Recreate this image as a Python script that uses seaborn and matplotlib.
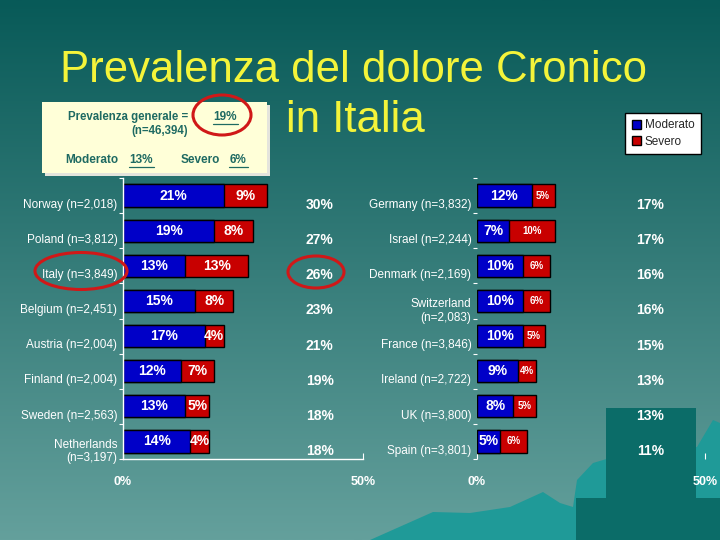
import matplotlib
matplotlib.use("Agg")
import matplotlib.pyplot as plt
import numpy as np
import pandas as pd
import seaborn as sns
from matplotlib.patches import Rectangle, Ellipse, Polygon, Patch

# data
left_countries = ["Norway (n=2,018)", "Poland (n=3,812)", "Italy (n=3,849)", "Belgium (n=2,451)",
                  "Austria (n=2,004)", "Finland (n=2,004)", "Sweden (n=2,563)", "Netherlands\n(n=3,197)"]
left_moderato = [21, 19, 13, 15, 17, 12, 13, 14]
left_severo = [9, 8, 13, 8, 4, 7, 5, 4]
left_totals = [30, 27, 26, 23, 21, 19, 18, 18]

right_countries = ["Germany (n=3,832)", "Israel (n=2,244)", "Denmark (n=2,169)", "Switzerland\n(n=2,083)",
                   "France (n=3,846)", "Ireland (n=2,722)", "UK (n=3,800)", "Spain (n=3,801)"]
right_moderato = [12, 7, 10, 10, 10, 9, 8, 5]
right_severo = [5, 10, 6, 6, 5, 4, 5, 6]
right_totals = [17, 17, 16, 16, 15, 13, 13, 11]

x_ticks = [0, 50]
x_tick_labels = ["0%", "50%"]
legend_labels = ["Moderato", "Severo"]

BLUE = "#0000c8"
RED = "#c80000"
WHITE = "white"

sns.set_theme(style="white")
plt.rcParams['font.family'] = ['Liberation Sans', 'DejaVu Sans']

fig = plt.figure(figsize=(7.2, 5.4), dpi=100)

# background of the slide, in pixel coordinates
bg = fig.add_axes([0, 0, 1, 1])
top = np.array([8, 90, 88]) / 255
bottom = np.array([100, 160, 156]) / 255
t = np.linspace(0, 1, 256)[:, None]
grad = (top * (1 - t) + bottom * t)[:, None, :]
bg.imshow(grad, extent=[0, 720, 540, 0], aspect="auto", zorder=0)
bg.add_patch(Polygon([(370, 540), (433, 512), (470, 513), (510, 507), (543, 492), (560, 503),
                      (573, 507), (577, 480), (593, 463), (610, 458), (697, 447), (713, 420),
                      (720, 423), (720, 540)], closed=True, color="#1f9a98", lw=0, zorder=1))
bg.add_patch(Rectangle((606, 408), 90, 100, color="#0b6c68", lw=0, zorder=2))
bg.add_patch(Rectangle((576, 498), 144, 42, color="#0b6c68", lw=0, zorder=2))

# info box
bg.add_patch(Rectangle((45, 105), 225, 71, color="#e4e4dc", lw=0, zorder=3))
bg.add_patch(Rectangle((42, 102), 225, 71, color="#ffffd8", lw=0, zorder=4))
box_c = "#1e6a62"
bg.text(128, 117, "Prevalenza generale =", color=box_c, fontsize=8.3, fontweight="bold", ha="center", va="center", zorder=5)
bg.text(225, 117, "19%", color=box_c, fontsize=8.5, fontweight="bold", ha="center", va="center", zorder=5)
bg.plot([213, 238], [124, 124], color=box_c, lw=0.9, zorder=5)
bg.text(160, 131, "(n=46,394)", color=box_c, fontsize=8.3, fontweight="bold", ha="center", va="center", zorder=5)
bg.text(92, 160, "Moderato", color=box_c, fontsize=8.5, fontweight="bold", ha="center", va="center", zorder=5)
bg.text(141, 160, "13%", color=box_c, fontsize=8.5, fontweight="bold", ha="center", va="center", zorder=5)
bg.plot([129, 154], [167, 167], color=box_c, lw=0.9, zorder=5)
bg.text(200, 160, "Severo", color=box_c, fontsize=8.5, fontweight="bold", ha="center", va="center", zorder=5)
bg.text(238, 160, "6%", color=box_c, fontsize=8.5, fontweight="bold", ha="center", va="center", zorder=5)
bg.plot([229, 248], [167, 167], color=box_c, lw=0.9, zorder=5)
bg.set_xlim(0, 720)
bg.set_ylim(540, 0)
bg.axis("off")

# title
fig.text(354 / 720, 1 - 70 / 540, "Prevalenza del dolore Cronico", color="#f4f43a", fontsize=31.5,
         ha="center", va="center")
fig.text(355 / 720, 1 - 121 / 540, "in Italia", color="#f4f43a", fontsize=31.5, ha="center", va="center")


def panel(rect, countries, moderato, severo, totals, total_x, severo_size, show_spines):
    ax = fig.add_axes(rect)
    ax.patch.set_alpha(0)
    df = pd.DataFrame({"country": countries, "moderato": moderato,
                       "totale": [m + s for m, s in zip(moderato, severo)]})
    sns.barplot(data=df, y="country", x="totale", color=RED, saturation=1, width=0.63,
                edgecolor="black", linewidth=1, orient="h", ax=ax)
    sns.barplot(data=df, y="country", x="moderato", color=BLUE, saturation=1, width=0.63,
                edgecolor="black", linewidth=1, orient="h", ax=ax)
    n = len(countries)
    for i in range(n):
        m, s = moderato[i], severo[i]
        ax.text(m / 2, i, f"{m}%", color=WHITE, fontsize=10, fontweight="bold", ha="center", va="center")
        ax.text(m + s / 2, i, f"{s}%", color=WHITE, fontsize=severo_size, fontweight="bold",
                ha="center", va="center")
        ax.text(total_x, i + 0.27, f"{totals[i]}%", color=WHITE, fontsize=10, fontweight="bold",
                ha="center", va="center", clip_on=False)
    ax.set_xlim(0, 50)
    ax.set_ylim(n - 0.5, -0.5)
    ax.set_yticks(np.arange(n) + 0.22)
    ax.set_yticklabels(countries, color=WHITE, fontsize=8.5)
    ax.set_yticks(np.arange(n + 1) - 0.5, minor=True)
    ax.tick_params(axis="y", which="major", length=0, pad=4)
    ax.tick_params(axis="y", which="minor", left=True, length=3, width=0.8, color=WHITE)
    ax.set_xticks(x_ticks)
    ax.set_xticklabels(x_tick_labels, color=WHITE, fontsize=9, fontweight="bold")
    ax.tick_params(axis="x", bottom=True, direction="in", length=4, width=0.8, color=WHITE, pad=12)
    ax.set_xlabel("")
    ax.set_ylabel("")
    for side in ["top", "right"]:
        ax.spines[side].set_visible(False)
    for side in ["left", "bottom"]:
        ax.spines[side].set_visible(show_spines)
        ax.spines[side].set_color(WHITE)
        ax.spines[side].set_linewidth(1)
    return ax


ax_left = panel([123 / 720, 1 - 459 / 540, 240 / 720, 281 / 540], left_countries, left_moderato,
                left_severo, left_totals, 41, 10, True)
ax_right = panel([477 / 720, 1 - 459 / 540, 228 / 720, 281 / 540], right_countries, right_moderato,
                 right_severo, right_totals, 38, 7, False)

handles = [Patch(facecolor=BLUE, edgecolor="black", label=legend_labels[0]),
           Patch(facecolor=RED, edgecolor="black", label=legend_labels[1])]
leg = fig.legend(handles=handles, loc="upper right", bbox_to_anchor=(701 / 720, 1 - 113 / 540),
                 fontsize=8.5, frameon=True, fancybox=False, handlelength=0.8, handleheight=0.8,
                 handletextpad=0.3, borderpad=0.55, labelspacing=0.35, borderaxespad=0)
leg.get_frame().set_edgecolor("black")
leg.get_frame().set_facecolor("white")
leg.get_frame().set_alpha(1)

# red circles drawn on the slide
over = fig.add_axes([0, 0, 1, 1])
over.patch.set_alpha(0)
over.set_xlim(0, 720)
over.set_ylim(540, 0)
over.axis("off")
for cx, cy, w, h in [(222, 115, 58, 40), (81, 271, 92, 37), (316, 272, 56, 32)]:
    over.add_patch(Ellipse((cx, cy), w, h, fill=False, edgecolor="#d01818", lw=2.2))

fig.savefig("out.png", dpi=100)
